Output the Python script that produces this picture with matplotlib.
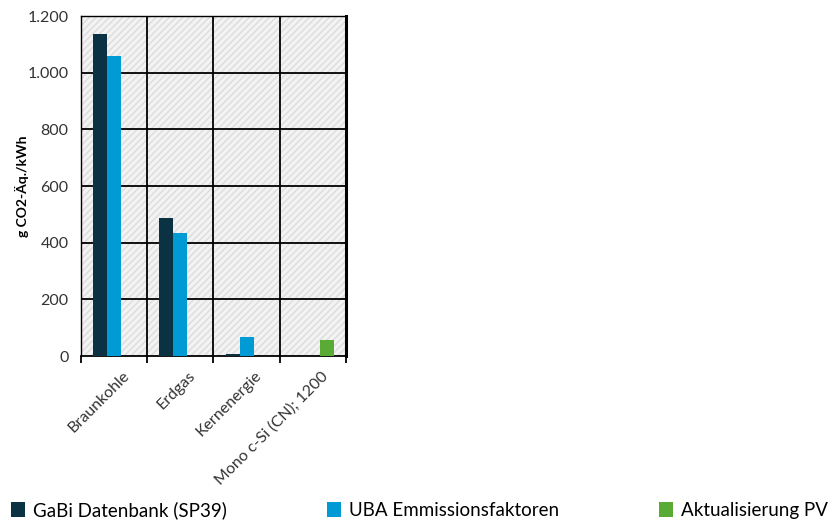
import numpy as np
import matplotlib.pyplot as plt
from matplotlib.patches import Rectangle, Patch

# data
categories = ['Braunkohle', 'Erdgas', 'Kernenergie', 'Mono c-Si (CN); 1200']
gabi = [1138, 487, 6, 0]
uba = [1058, 433, 67, 0]
pv = [0, 0, 0, 56]
series_names = ['GaBi Datenbank (SP39)', 'UBA Emmissionsfaktoren', 'Aktualisierung PV']
colors = ['#0b3242', '#009ad5', '#5aab35']
yticks = [0, 200, 400, 600, 800, 1000, 1200]
ytick_labels = ['0', '200', '400', '600', '800', '1.000', '1.200']

plt.rcParams['font.family'] = ['Lato', 'DejaVu Sans']

fig = plt.figure(figsize=(8.39, 5.30), dpi=100)
ax = fig.add_axes([81 / 839, 174 / 530, 265 / 839, 340 / 530])

# hatched light background of the plot area
ax.set_facecolor('#f3f3f3')
ax.add_patch(Rectangle((0, 0), 1, 1, transform=ax.transAxes, facecolor='none',
                       edgecolor='#dcdcdc', hatch='/////', linewidth=0, zorder=0))

x = np.arange(len(categories))
w = 0.212
for i, (vals, c) in enumerate(zip([gabi, uba, pv], colors)):
    ax.bar(x + (i - 1) * w, vals, width=w, color=c, zorder=3)

ax.set_xlim(-0.5, len(categories) - 0.5)
ax.set_ylim(0, 1200)

# grid lines
for yv in yticks[1:]:
    ax.axhline(yv, color='black', lw=1.3, zorder=2)
for xv in x[:-1] + 0.5:
    ax.axvline(xv, color='black', lw=1.3, zorder=2)

for s in ['left', 'top']:
    ax.spines[s].set_linewidth(1.0)
ax.spines['right'].set_linewidth(2.2)
ax.spines['bottom'].set_linewidth(1.3)

ax.set_yticks(yticks)
ax.set_yticklabels(ytick_labels, fontsize=11.5, color='#333333')
ax.tick_params(axis='y', length=0, pad=9)

ax.set_xticks(np.arange(len(categories) + 1) - 0.5, minor=False)
ax.set_xticklabels([])
ax.tick_params(axis='x', length=5, width=1.3, direction='out')
for xi, lab in zip(x, categories):
    ax.text(xi + 0.12, -45, lab, rotation=45, ha='right', va='top',
            rotation_mode='anchor', fontsize=11.5, color='#333333')

ax.set_ylabel('g CO2-Äq./kWh', fontsize=10, fontweight='bold', va='center')
ax.yaxis.set_label_coords(-59 / 265, 0.5)

handles = [Patch(facecolor=c, edgecolor='none') for c in colors]
fig.legend(handles, series_names, loc='lower left', ncol=3, mode='expand',
           bbox_to_anchor=(0.0, 0.0, 1.0, 0.07), frameon=False, fontsize=13.5,
           handlelength=0.75, handleheight=0.85, handletextpad=0.4, borderaxespad=0.2)

fig.savefig('out.png', dpi=100)
